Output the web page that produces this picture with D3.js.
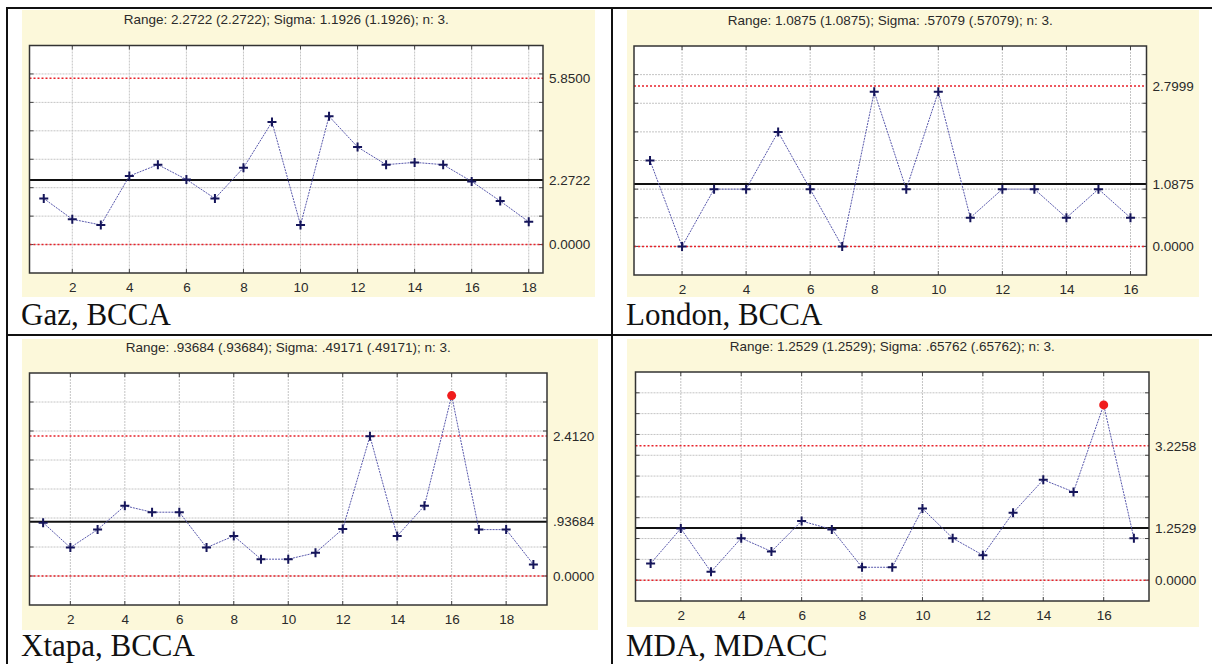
<!DOCTYPE html>
<html>
<head>
<meta charset="utf-8">
<script src="https://cdn.jsdelivr.net/npm/d3@7"></script>
<style>
  html, body { margin: 0; padding: 0; background: #fff; }
  svg { display: block; }
  .sans { font-family: "Liberation Sans", Arial, Helvetica, sans-serif; }
  .caption { font-family: "Liberation Serif", "Times New Roman", Times, "DejaVu Serif", serif; }
</style>
</head>
<body>
<svg id="chart" width="1212" height="664"></svg>
<script>
// Range values per sample
var gazRanges = [1.62, 0.89, 0.69, 2.41, 2.81, 2.29, 1.62, 2.70, 4.31, 0.69, 4.51, 3.43, 2.81, 2.89, 2.81, 2.22, 1.53, 0.80];
var londonRanges = [1.5, 0, 1, 1, 2, 1, 0, 2.7, 1, 2.7, 0.5, 1, 1, 0.5, 1, 0.5];
var xtapaRanges = [0.92, 0.49, 0.80, 1.21, 1.10, 1.10, 0.49, 0.69, 0.29, 0.29, 0.40, 0.81, 2.41, 0.69, 1.21, 3.11, 0.80, 0.80, 0.20];
var mdaRanges = [0.40, 1.24, 0.20, 1.01, 0.69, 1.42, 1.22, 0.31, 0.31, 1.72, 1.01, 0.60, 1.62, 2.41, 2.12, 4.21, 1.01];

// Control limits: upper, center, lower
var gazLimits = [5.85, 2.2722, 0];
var londonLimits = [2.7999, 1.0875, 0];
var xtapaLimits = [2.412, 0.93684, 0];
var mdaLimits = [3.2258, 1.2529, 0];

var gazLimitLabels = ["5.8500", "2.2722", "0.0000"];
var londonLimitLabels = ["2.7999", "1.0875", "0.0000"];
var xtapaLimitLabels = ["2.4120", ".93684", "0.0000"];
var mdaLimitLabels = ["3.2258", "1.2529", "0.0000"];

var titles = [
  "Range: 2.2722 (2.2722); Sigma: 1.1926 (1.1926); n: 3.",
  "Range: 1.0875 (1.0875); Sigma: .57079 (.57079); n: 3.",
  "Range: .93684 (.93684); Sigma: .49171 (.49171); n: 3.",
  "Range: 1.2529 (1.2529); Sigma: .65762 (.65762); n: 3."
];
var captions = ["Gaz, BCCA", "London, BCCA", "Xtapa, BCCA", "MDA, MDACC"];

// Layout: background box [x, y, w, h], plot box [x0, y0, x1, y1]
var panels = [
  { values: gazRanges, limits: gazLimits, labels: gazLimitLabels, title: titles[0], caption: captions[0],
    bg: [22, 10, 573, 287], plot: [29.5, 45.5, 543, 273], yDomain: [-1, 7], yStep: 1, captionY: 325 },
  { values: londonRanges, limits: londonLimits, labels: londonLimitLabels, title: titles[1], caption: captions[1],
    bg: [627, 10, 572, 287], plot: [634, 46, 1146.5, 275], yDomain: [-0.5, 3.5], yStep: 0.5, captionY: 325 },
  { values: xtapaRanges, limits: xtapaLimits, labels: xtapaLimitLabels, title: titles[2], caption: captions[2],
    bg: [22, 339, 576, 291], plot: [29.5, 373, 547, 605], yDomain: [-0.5, 3.5], yStep: 0.5, captionY: 656 },
  { values: mdaRanges, limits: mdaLimits, labels: mdaLimitLabels, title: titles[3], caption: captions[3],
    bg: [627, 339, 572, 288], plot: [635.5, 372, 1149, 601], yDomain: [-0.5, 5], yStep: 0.5, captionY: 656 }
];

var svg = d3.select("#chart");

panels.forEach(function (p) {
  var g = svg.append("g");
  var x0 = p.plot[0], y0 = p.plot[1], x1 = p.plot[2], y1 = p.plot[3];
  var n = p.values.length;

  var xScale = d3.scaleLinear().domain([0.5, n + 0.5]).range([x0, x1]);
  var yScale = d3.scaleLinear().domain(p.yDomain).range([y1, y0]);

  // Beige panel background
  g.append("rect")
    .attr("x", p.bg[0]).attr("y", p.bg[1])
    .attr("width", p.bg[2]).attr("height", p.bg[3])
    .attr("fill", "#fcf8da");

  // Title
  g.append("text")
    .attr("class", "sans")
    .attr("x", (x0 + x1) / 2)
    .attr("y", y0 - 25)
    .attr("text-anchor", "middle")
    .attr("dominant-baseline", "middle")
    .attr("font-size", 13.5)
    .attr("fill", "#2a2a2a")
    .text(p.title);

  // Plot area
  g.append("rect")
    .attr("x", x0).attr("y", y0)
    .attr("width", x1 - x0).attr("height", y1 - y0)
    .attr("fill", "#fff");

  var xTicks = d3.range(2, n + 1, 2);
  var yGrid = d3.range(p.yDomain[0] + p.yStep, p.yDomain[1] - 1e-9, p.yStep);

  // Grid
  g.append("g").selectAll("line")
    .data(xTicks)
    .join("line")
    .attr("x1", function (d) { return xScale(d); })
    .attr("x2", function (d) { return xScale(d); })
    .attr("y1", y0).attr("y2", y1)
    .attr("stroke", "#c4c4c4")
    .attr("stroke-width", 1)
    .attr("stroke-dasharray", "2,1");

  g.append("g").selectAll("line")
    .data(yGrid)
    .join("line")
    .attr("x1", x0).attr("x2", x1)
    .attr("y1", function (d) { return yScale(d); })
    .attr("y2", function (d) { return yScale(d); })
    .attr("stroke", "#c4c4c4")
    .attr("stroke-width", 1)
    .attr("stroke-dasharray", "2,1");

  // Inward ticks on all sides
  var tickG = g.append("g").attr("stroke", "#444").attr("stroke-width", 1);
  tickG.selectAll(".tb").data(xTicks).join("line")
    .attr("x1", function (d) { return xScale(d); })
    .attr("x2", function (d) { return xScale(d); })
    .attr("y1", y1).attr("y2", y1 - 4);
  tickG.selectAll(".tt").data(xTicks).join("line")
    .attr("x1", function (d) { return xScale(d); })
    .attr("x2", function (d) { return xScale(d); })
    .attr("y1", y0).attr("y2", y0 + 4);
  tickG.selectAll(".tl").data(yGrid).join("line")
    .attr("x1", x0).attr("x2", x0 + 4)
    .attr("y1", function (d) { return yScale(d); })
    .attr("y2", function (d) { return yScale(d); });
  tickG.selectAll(".tr").data(yGrid).join("line")
    .attr("x1", x1).attr("x2", x1 - 4)
    .attr("y1", function (d) { return yScale(d); })
    .attr("y2", function (d) { return yScale(d); });

  // X axis labels
  var xAxis = g.append("g")
    .attr("transform", "translate(0," + y1 + ")")
    .call(d3.axisBottom(xScale).tickValues(xTicks).tickSize(0).tickPadding(9));
  xAxis.select(".domain").remove();
  xAxis.attr("font-family", null).attr("font-size", null);
  xAxis.selectAll("text")
    .attr("class", "sans")
    .attr("font-size", 13.5)
    .attr("fill", "#2a2a2a");

  // Limit lines: upper and lower red dotted, center black
  var ucl = p.limits[0];
  g.append("g").selectAll("line")
    .data([p.limits[0], p.limits[2]])
    .join("line")
    .attr("x1", x0).attr("x2", x1)
    .attr("y1", function (d) { return yScale(d); })
    .attr("y2", function (d) { return yScale(d); })
    .attr("stroke", "#e8222a")
    .attr("stroke-width", 1.5)
    .attr("stroke-dasharray", "2,2");

  g.append("line")
    .attr("x1", x0).attr("x2", x1)
    .attr("y1", yScale(p.limits[1]))
    .attr("y2", yScale(p.limits[1]))
    .attr("stroke", "#111")
    .attr("stroke-width", 2);

  // Right-side limit labels
  var yAxis = g.append("g")
    .attr("transform", "translate(" + x1 + ",0)")
    .call(d3.axisRight(yScale)
      .tickValues(p.limits)
      .tickFormat(function (d, i) { return p.labels[i]; })
      .tickSize(0)
      .tickPadding(6));
  yAxis.select(".domain").remove();
  yAxis.attr("font-family", null).attr("font-size", null);
  yAxis.selectAll("text")
    .attr("class", "sans")
    .attr("font-size", 13.5)
    .attr("fill", "#2a2a2a");

  // Plot border
  g.append("rect")
    .attr("x", x0).attr("y", y0)
    .attr("width", x1 - x0).attr("height", y1 - y0)
    .attr("fill", "none")
    .attr("stroke", "#333")
    .attr("stroke-width", 1.5);

  // Series line
  var lineGen = d3.line()
    .x(function (d, i) { return xScale(i + 1); })
    .y(function (d) { return yScale(d); });

  g.append("path")
    .datum(p.values)
    .attr("d", lineGen)
    .attr("fill", "none")
    .attr("stroke", "#5858ac")
    .attr("stroke-width", 1)
    .attr("stroke-dasharray", "2,1");

  // Markers: crosses in control, red dots above the upper limit
  var pts = p.values.map(function (v, i) { return { i: i + 1, v: v }; });
  g.append("g").selectAll("path")
    .data(pts.filter(function (d) { return d.v <= ucl; }))
    .join("path")
    .attr("d", function (d) {
      var cx = xScale(d.i), cy = yScale(d.v), a = 4.5;
      return "M" + (cx - a) + "," + cy + "H" + (cx + a) + "M" + cx + "," + (cy - a) + "V" + (cy + a);
    })
    .attr("stroke", "#15155a")
    .attr("stroke-width", 2)
    .attr("fill", "none");

  g.append("g").selectAll("circle")
    .data(pts.filter(function (d) { return d.v > ucl; }))
    .join("circle")
    .attr("cx", function (d) { return xScale(d.i); })
    .attr("cy", function (d) { return yScale(d.v); })
    .attr("r", 4.5)
    .attr("fill", "#f01c1c");

  // Caption
  g.append("text")
    .attr("class", "caption")
    .attr("x", p.bg[0] - 1)
    .attr("y", p.captionY)
    .attr("font-size", 31)
    .attr("fill", "#111")
    .text(p.caption);
});

// Table frame
var frame = [
  [6, 8, 1212, 8],
  [7, 8, 7, 664],
  [612, 8, 612, 664],
  [7, 335, 1212, 335]
];
svg.append("g").selectAll("line")
  .data(frame)
  .join("line")
  .attr("x1", function (d) { return d[0]; })
  .attr("y1", function (d) { return d[1]; })
  .attr("x2", function (d) { return d[2]; })
  .attr("y2", function (d) { return d[3]; })
  .attr("stroke", "#111")
  .attr("stroke-width", 2);
</script>
</body>
</html>
